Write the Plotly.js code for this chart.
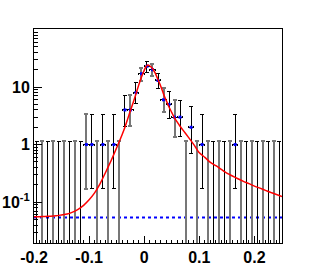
<!DOCTYPE html>
<html>
<head>
<meta charset="utf-8">
<script src="https://cdn.plot.ly/plotly-3.0.1.min.js"></script>
<style>html,body{margin:0;padding:0;background:#fff;}#chart{width:316px;height:273px;}
.errorbar path{shape-rendering:crispEdges;}</style>
</head>
<body>
<div id="chart"></div>
<script>
// Histogram bin centres (bin width 0.01)
const binCenters = [-0.195,-0.185,-0.175,-0.165,-0.155,-0.145,-0.135,-0.125,-0.115,-0.105,
  -0.095,-0.085,-0.075,-0.065,-0.055,-0.045,-0.035,-0.025,-0.015,-0.005,
  0.005,0.015,0.025,0.035,0.045,0.055,0.065,0.075,0.085,0.095,
  0.105,0.115,0.125,0.135,0.145,0.155,0.165,0.175,0.185,0.195,
  0.205,0.215,0.225,0.235,0.245];
const counts = [0,0,0,0,0,0,0,0,0,1,
  1,0,1,0,1,0,4,4,8,17,
  23,20,13,6,5,3,3,0,2,0,
  1,0,0,0,0,0,1,0,0,0,
  0,0,0,0,0];
// Lower / upper ends of the (asymmetric) error bars
const errLow = [0,0,0,0,0,0,0,0,0,0.17,
  0.17,0,0.17,0,0.17,0,2.09,2.09,5.23,12.8,
  18.2,15.5,9.3,3.62,2.84,1.37,1.37,0,0.71,0,
  0.17,0,0,0,0,0,0.17,0,0,0,
  0,0,0,0,0];
const errHigh = [1.15,1.15,1.15,1.15,1.15,1.15,1.15,1.15,1.15,3.4,
  3.4,1.15,3.4,1.15,3.4,1.15,7.2,7.2,11.9,21.6,
  28.3,25.0,17.1,9.6,8.4,5.9,5.9,1.15,4.64,1.15,
  3.4,1.15,1.15,1.15,1.15,1.15,3.4,1.15,1.15,1.15,
  1.15,1.15,1.15,1.15,1.15];
const halfBin = 0.005;

// Fit curve (red)
const fitX = [-0.20,-0.19,-0.18,-0.17,-0.16,-0.15,-0.14,-0.13,-0.12,-0.11,-0.10,-0.09,-0.08,-0.07,-0.06,-0.05,-0.04,-0.035,-0.03,-0.025,-0.02,-0.015,-0.01,-0.005,0.0,0.003,0.006,0.009,0.012,0.015,0.02,0.025,0.03,0.035,0.04,0.045,0.05,0.055,0.06,0.065,0.07,0.08,0.09,0.10,0.11,0.12,0.13,0.14,0.15,0.16,0.17,0.18,0.19,0.20,0.21,0.22,0.23,0.24,0.25];
const fitY = [0.056,0.056,0.0565,0.057,0.058,0.060,0.062,0.067,0.075,0.088,0.110,0.145,0.21,0.33,0.53,0.88,1.5,2.0,2.8,3.9,5.4,7.6,10.8,15,19.5,22.5,24,23.8,22.5,21,17.5,13.5,10.3,7.6,5.8,4.5,3.6,2.9,2.45,2.08,1.8,1.35,1.0,0.72,0.6,0.49,0.43,0.37,0.32,0.285,0.255,0.23,0.21,0.19,0.175,0.16,0.147,0.136,0.125];

// Background level (blue dotted)
const bgX = [-0.2, 0.25];
const bgY = [0.054, 0.054];

const xTickVals = [-0.2,-0.1,0,0.1,0.2];
const xTickText = ['-0.2','-0.1','0','0.1','0.2'];
const yTickVals = [0.1,1,10];
const yTickText = ['10<sup>-1</sup>','1','10'];

const yMin = 0.0195, yMax = 102;
const floorVal = 0.01; // below visible range, used for empty bins on log axis

function histTrace(parity, color, thick) {
  const xs=[], ys=[], up=[], dn=[];
  binCenters.forEach((c,i)=>{
    if (i%2!==parity) return;
    const y = counts[i]>0 ? counts[i] : floorVal;
    xs.push(c); ys.push(y);
    up.push(errHigh[i]-y);
    dn.push(counts[i]>0 ? y-errLow[i] : 0);
  });
  return {
    type:'scatter', mode:'markers', x:xs, y:ys,
    marker:{symbol:'square', size:3, color:'#0000ff'},
    error_y:{type:'data', symmetric:false, array:up, arrayminus:dn, color:color, thickness:thick, width:2},
    error_x:{type:'constant', value:halfBin, color:'#000', thickness:1, width:1},
    hoverinfo:'skip', showlegend:false
  };
}

const minorY = [];
for (let e=-2; e<=2; e++) for (let d=2; d<=9; d++) minorY.push(d*Math.pow(10,e));

const traces = [
  {type:'scatter', mode:'lines', x:bgX, y:bgY, line:{color:'#0000ff', width:2, dash:'dot'}, hoverinfo:'skip', showlegend:false},
  histTrace(0, '#000000', 1),
  histTrace(1, '#777777', 2),
  {type:'scatter', mode:'lines', x:fitX, y:fitY, line:{color:'#ff0000', width:1.5, shape:'spline', smoothing:0.5}, hoverinfo:'skip', showlegend:false}
];

const tickFont = {family:'Liberation Sans, Arial, sans-serif', size:16, color:'#000', weight:'bold'};

const layout = {
  width:316, height:273,
  margin:{l:34, r:34, t:29, b:30, pad:0},
  paper_bgcolor:'#fff', plot_bgcolor:'#fff',
  showlegend:false,
  xaxis:{
    range:[-0.2,0.25], tickmode:'array', tickvals:xTickVals, ticktext:xTickText,
    ticks:'inside', ticklen:7, tickwidth:1, tickcolor:'#000',
    minor:{dtick:0.01, tick0:0, ticks:'inside', ticklen:3, tickwidth:1, tickcolor:'#000', showgrid:false},
    showline:true, linecolor:'#000', linewidth:1, mirror:true,
    showgrid:false, zeroline:false, tickfont:tickFont
  },
  yaxis:{
    type:'log', range:[Math.log10(yMin), Math.log10(yMax)],
    tickmode:'array', tickvals:yTickVals, ticktext:yTickText,
    ticks:'inside', ticklen:8, tickwidth:1, tickcolor:'#000',
    minor:{tickmode:'array', tickvals:minorY, ticks:'inside', ticklen:4, tickwidth:1, tickcolor:'#000', showgrid:false},
    showline:true, linecolor:'#000', linewidth:1, mirror:true,
    showgrid:false, zeroline:false, tickfont:tickFont
  }
};

Plotly.newPlot('chart', traces, layout, {staticPlot:true, displayModeBar:false});
</script>
</body>
</html>
